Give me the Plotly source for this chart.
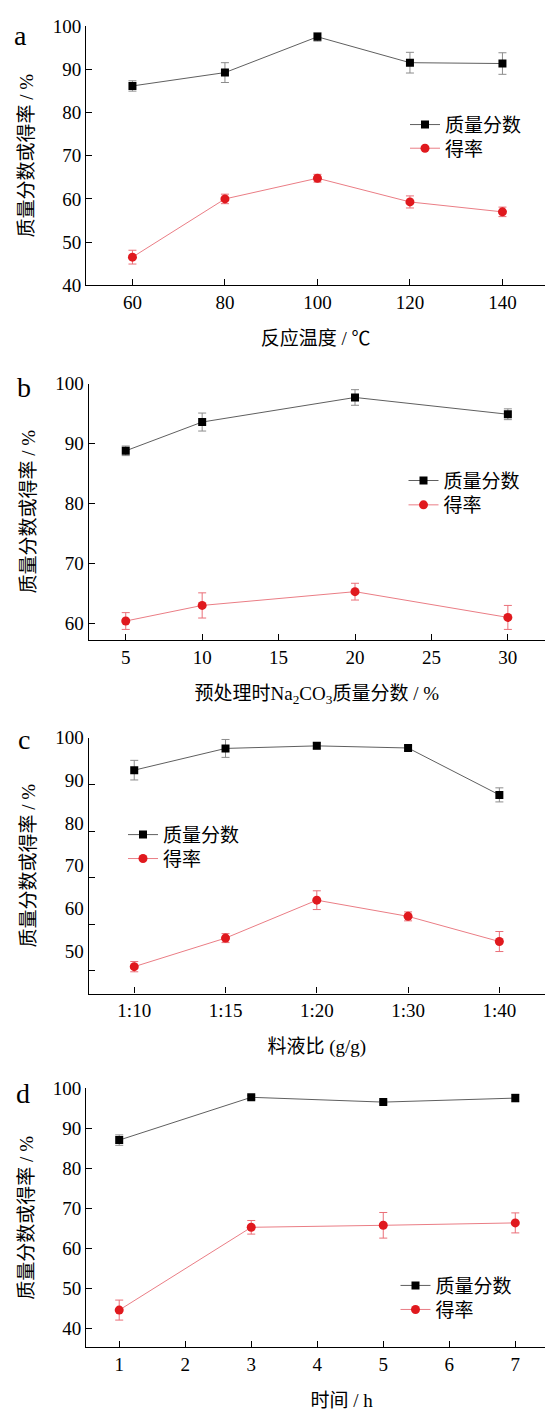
import plotly.graph_objects as go

W, H = 545, 1419

# ---------------- data ----------------
a_x = [60, 80, 100, 120, 140]
a_mass = [86.2, 89.3, 97.6, 91.6, 91.4]
a_mass_err = [1.2, 2.3, 1.0, 2.4, 2.5]
a_yield = [46.5, 60.0, 64.8, 59.3, 57.0]
a_yield_err = [1.6, 1.1, 0.9, 1.4, 1.1]

b_x = [5, 10, 20, 30]
b_mass = [88.8, 93.6, 97.7, 94.9]
b_mass_err = [0.8, 1.5, 1.3, 0.9]
b_yield = [60.4, 63.0, 65.3, 61.0]
b_yield_err = [1.4, 2.1, 1.4, 2.0]

c_x = ["1:10", "1:15", "1:20", "1:30", "1:40"]
c_mass = [92.4, 97.5, 98.1, 97.6, 86.6]
c_mass_err = [2.3, 2.1, 0.7, 0.6, 1.65]
c_yield = [46.3, 53.0, 61.9, 58.1, 52.2]
c_yield_err = [1.2, 1.05, 2.2, 1.05, 2.35]

d_x = [1, 3, 5, 7]
d_mass = [87.1, 97.8, 96.6, 97.6]
d_mass_err = [1.3, 0.5, 0.4, 1.0]
d_yield = [44.6, 65.3, 65.8, 66.4]
d_yield_err = [2.5, 1.7, 3.2, 2.5]

name_mass = "质量分数"
name_yield = "得率"
y_title = "质量分数或得率 / %"
x_titles = ["反应温度 / ℃", "预处理时Na<sub>2</sub>CO<sub>3</sub>质量分数 / %",
            "料液比 (g/g)", "&nbsp;" * 11 + "时间 / h"]
panel_labels = ["a", "b", "c", "d"]

FONT = "Liberation Serif, Noto Sans CJK SC, serif"
BLACK_LINE = "#5f5f5f"
BLACK_ERR = "#8c8c8c"
RED = "#e0191e"
RED_LINE = "#ea7d85"
RED_ERR = "#ea6f78"

# panel geometry in pixels: (left, top, bottom)
geo = [(86.2, 16.7, 279.3), (88.6, 379.3, 639.3), (88.6, 738.7, 998.3), (86.2, 1094.7, 1357.3)]
xranges = [[50, 149.2], [2.57, 32.43], [-0.5, 4.5], [0.5, 7.45]]
yranges = [[40, 100], [57.26, 100], [40, 100], [35.32, 100]]
# legend item left px, row centres px
leg_left = [405, 403.5, 123, 395.5]
leg_rows = [(116, 140), (477.3, 502), (836.7, 861), (1294.3, 1318.7)]
label_pos = [(12, 8), (15, 365), (16, 723), (14, 1082)]

xs = [a_x, b_x, c_x, d_x]
masses = [a_mass, b_mass, c_mass, d_mass]
mass_errs = [a_mass_err, b_mass_err, c_mass_err, d_mass_err]
yields = [a_yield, b_yield, c_yield, d_yield]
yield_errs = [a_yield_err, b_yield_err, c_yield_err, d_yield_err]

LEG_FS = 19
item_half = (max(LEG_FS * 1.3, 16) + 3) / 2 + 5

fig = go.Figure()
layout = dict(
    width=W, height=H, margin=dict(l=0, r=0, t=0, b=0),
    paper_bgcolor="white", plot_bgcolor="white", showlegend=True,
    font=dict(family=FONT, size=19, color="black"),
)


def legname(k):
    return "legend" if k == 1 else "legend" + str(k)


annotations = []
for i in range(4):
    n = i + 1
    sfx = "" if n == 1 else str(n)
    left, top, bottom = geo[i]
    xa = "x" + sfx
    ya = "y" + sfx
    lm = legname(2 * i + 1)
    ly = legname(2 * i + 2)
    fig.add_trace(go.Scatter(
        x=xs[i], y=masses[i], name=name_mass, mode="lines+markers",
        xaxis=xa, yaxis=ya, legend=lm, showlegend=True,
        line=dict(color=BLACK_LINE, width=1),
        marker=dict(symbol="square", size=8, color="black"),
        error_y=dict(type="data", array=mass_errs[i], color=BLACK_ERR, thickness=1, width=4),
    ))
    fig.add_trace(go.Scatter(
        x=xs[i], y=yields[i], name=name_yield, mode="lines+markers",
        xaxis=xa, yaxis=ya, legend=ly, showlegend=True,
        line=dict(color=RED_LINE, width=1),
        marker=dict(symbol="circle", size=9, color=RED),
        error_y=dict(type="data", array=yield_errs[i], color=RED_ERR, thickness=1, width=4),
    ))
    xdom = [left / W, 1.0]
    ydom = [1 - bottom / H, 1 - top / H]
    xaxis = dict(
        domain=xdom, anchor=ya, range=xranges[i],
        showline=True, linecolor="black", linewidth=1.2,
        ticks="inside", ticklen=6, tickcolor="black", tickwidth=1,
        showgrid=False, zeroline=False,
        tickfont=dict(size=19, family=FONT),
        title=dict(text=x_titles[i], font=dict(size=19, family=FONT), standoff=19),
    )
    if i == 2:
        xaxis["type"] = "category"
    else:
        xaxis["dtick"] = {0: 20, 1: 5, 3: 1}[i]
    yaxis = dict(
        domain=ydom, anchor=xa, range=yranges[i],
        showline=True, linecolor="black", linewidth=1.2,
        ticks="inside", ticklen=6, tickcolor="black", tickwidth=1,
        showgrid=False, zeroline=False, dtick=10,
        tickfont=dict(size=19, family=FONT),
        title=dict(text=y_title, font=dict(size=19, family=FONT), standoff=14),
    )
    if i == 2:
        yaxis["ticks"] = ""
        yaxis["tickvals"] = [50, 60, 70, 80, 90, 100]
    layout["xaxis" + sfx] = xaxis
    layout["yaxis" + sfx] = yaxis
    for lname, rc in zip((lm, ly), leg_rows[i]):
        layout[lname] = dict(
            x=leg_left[i] / W, y=1 - (rc - item_half) / H, xanchor="left", yanchor="top",
            bgcolor="rgba(0,0,0,0)", borderwidth=0, visible=True,
            font=dict(size=LEG_FS, family=FONT), itemwidth=30,
        )
    px_, py_ = label_pos[i]
    annotations.append(dict(
        text=panel_labels[i], x=px_ / W, y=1 - py_ / H, xref="paper", yref="paper",
        xanchor="left", yanchor="top", showarrow=False,
        font=dict(size=28, family=FONT, color="black"),
    ))

# panel c: tick marks on their own overlaid scale (labels and marks are offset in the original)
c_tick_vals = [50, 60, 70, 80, 90, 100]
fig.add_trace(go.Scatter(x=[], y=[], xaxis="x3", yaxis="y5", showlegend=False))
layout["yaxis5"] = dict(
    overlaying="y3", anchor="x3", side="left", range=[45.15, 100],
    tickvals=c_tick_vals, showticklabels=False,
    ticks="inside", ticklen=6, tickcolor="black", tickwidth=1,
    showline=False, showgrid=False, zeroline=False,
)

layout["annotations"] = annotations
fig.update_layout(**layout)
fig.write_html("out.html")
